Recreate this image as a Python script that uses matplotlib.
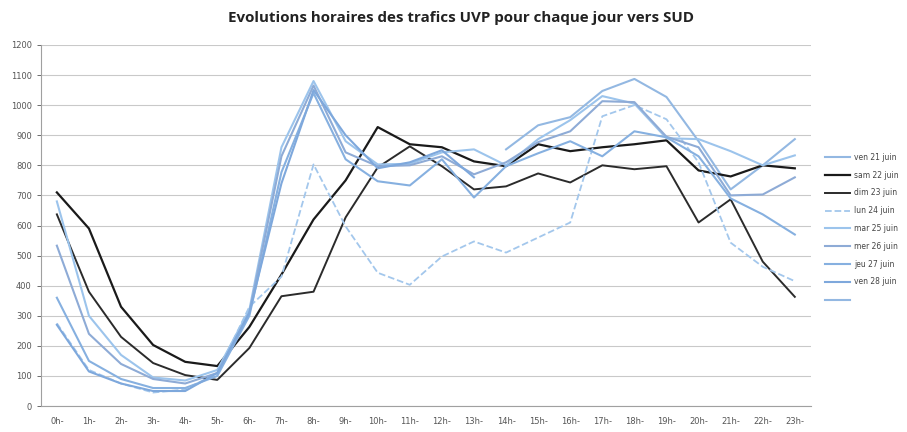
import numpy as np
import matplotlib
matplotlib.use("Agg")
import matplotlib.pyplot as plt

nan = np.nan

hours = [f"{h}h-" for h in range(24)]

ven21 = [nan] * 14 + [853, 933, 960, 1047, 1087, 1027, 880, 720, 800, 887]
sam22 = [710, 590, 330, 203, 147, 133, 263, 437, 620, 750, 927, 870,
         860, 813, 797, 870, 847, 860, 870, 883, 783, 763, 800, 790]
dim23 = [637, 380, 230, 143, 103, 87, 193, 365, 380, 627, 793, 863,
         797, 720, 730, 773, 743, 800, 787, 797, 610, 687, 480, 363]
lun24 = [275, 120, 75, 45, 55, 110, 330, 430, 803, 597, 443, 403,
         497, 547, 510, 560, 610, 963, 1000, 953, 810, 543, 463, 415]
mar25 = [680, 300, 170, 95, 85, 120, 320, 860, 1080, 880, 803, 805,
         843, 853, 800, 887, 950, 1030, 1005, 890, 887, 847, 800, 833]
mer26 = [533, 240, 140, 90, 75, 110, 310, 830, 1065, 843, 797, 800,
         830, 770, 810, 877, 913, 1013, 1010, 895, 860, 700, 703, 760]
jeu27 = [360, 150, 90, 60, 60, 100, 300, 777, 1040, 820, 747, 733,
         820, 693, 797, 840, 880, 830, 913, 893, 830, 690, 637, 570]
ven28 = [270, 115, 75, 50, 50, 110, 310, 740, 1050, 900, 790, 810,
         850, 760] + [nan] * 10

series = [
    ("ven 21 juin", ven21, "#93b8e2", "-", 1.5),
    ("sam 22 juin", sam22, "#1a1a1a", "-", 1.6),
    ("dim 23 juin", dim23, "#2b2b2b", "-", 1.4),
    ("lun 24 juin", lun24, "#a3c7ec", "--", 1.3),
    ("mar 25 juin", mar25, "#9cc4ec", "-", 1.5),
    ("mer 26 juin", mer26, "#8eabd6", "-", 1.5),
    ("jeu 27 juin", jeu27, "#86b0e0", "-", 1.5),
    ("ven 28 juin", ven28, "#7ea8dc", "-", 1.5),
]

fig = plt.figure(figsize=(9.07, 4.32), dpi=100)
ax = fig.add_axes([0.045, 0.06, 0.849, 0.836])

x = np.arange(24) + 0.5
for label, vals, col, ls, lw in series:
    ax.plot(x, vals, color=col, linestyle=ls, linewidth=lw, label=label)
# empty legend entry as in the original
ax.plot([], [], color="#93b8e2", linewidth=1.5, label=" ")

ax.set_xlim(0, 24)
ax.set_ylim(0, 1200)
ax.set_yticks(range(0, 1201, 100))
ax.set_xticks(x)
ax.set_xticklabels(hours)
ax.tick_params(axis="x", length=0, labelsize=6, colors="#555555", pad=8)
ax.tick_params(axis="y", length=3, labelsize=6, colors="#555555", width=0.6)
ax.grid(axis="y", color="#c9c9c9", linewidth=0.8)
ax.set_axisbelow(True)
for side in ["top", "right"]:
    ax.spines[side].set_visible(False)
ax.spines["left"].set_color("#a0a0a0")
ax.spines["bottom"].set_color("#a0a0a0")

fig.suptitle("Evolutions horaires des trafics UVP pour chaque jour vers SUD",
             x=0.508, y=0.975, fontsize=10.9, fontweight="bold",
             family="Open Sans", color="#222222")

leg = ax.legend(loc="upper left", bbox_to_anchor=(1.01, 0.72), frameon=False,
                fontsize=5.5, handlelength=3.2, labelspacing=1.15,
                handletextpad=0.6)
for t in leg.get_texts():
    t.set_color("#444444")

fig.savefig("out.png", dpi=100)
